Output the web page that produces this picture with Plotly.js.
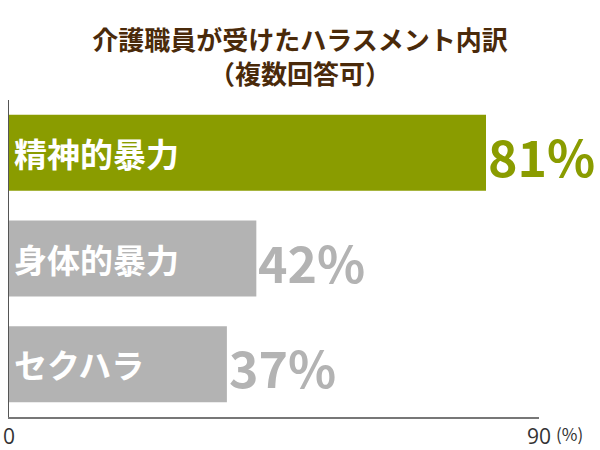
<!DOCTYPE html>
<html>
<head>
<meta charset="utf-8">
<script src="https://cdn.plot.ly/plotly-3.0.1.min.js"></script>
<style>
  html, body { margin: 0; padding: 0; background: #fff; }
  #chart { width: 600px; height: 450px; }
</style>
</head>
<body>
<div id="chart"></div>
<script>
const categories = ["精神的暴力", "身体的暴力", "セクハラ"];
const values = [81, 42, 37];
const barColors = ["#8a9c00", "#b3b3b3", "#b3b3b3"];
const tickVals = [0, 90];
const tickText = ["0", "90"];

const FONT = "'Noto Sans CJK JP', 'Noto Sans', sans-serif";

const barTrace = {
  type: "bar",
  orientation: "h",
  x: values,
  y: categories,
  width: 0.72,
  marker: { color: barColors },
  hoverinfo: "skip",
};

// category names inside the bars, percentages after the bar end
const nameLabels = categories.map((c) => ({
  x: 0,
  y: c,
  xref: "x",
  yref: "y",
  text: c,
  showarrow: false,
  xanchor: "left",
  xshift: 3,
  font: { family: FONT, size: 33, color: "#ffffff", weight: "bold" },
}));

const valueLabels = values.map((v, i) => ({
  x: v,
  y: categories[i],
  xref: "x",
  yref: "y",
  text: v + "%",
  showarrow: false,
  xanchor: "left",
  xshift: 0,
  yshift: -2,
  font: { family: FONT, size: 50, color: barColors[i], weight: "bold" },
}));

const unitLabel = {
  x: 90,
  y: 0,
  xref: "x",
  yref: "paper",
  xshift: 15,
  yshift: -16,
  text: "(%)",
  showarrow: false,
  xanchor: "left",
  yanchor: "middle",
  font: { family: FONT, size: 17, color: "#333333" },
};

const layout = {
  width: 600,
  height: 450,
  margin: { l: 9, r: 61, t: 100, b: 33 },
  paper_bgcolor: "#ffffff",
  plot_bgcolor: "#ffffff",
  showlegend: false,
  title: {
    text: "介護職員が受けたハラスメント内訳<br>（複数回答可）",
    font: { family: FONT, size: 26, color: "#4a2a0a", weight: "bold" },
    x: 0.5,
    xref: "container",
    y: 0.888,
    yref: "container",
    yanchor: "top",
  },
  xaxis: {
    range: [0, 90],
    tickmode: "array",
    tickvals: tickVals,
    ticktext: tickText,
    showgrid: false,
    zeroline: false,
    showline: true,
    linecolor: "#777777",
    linewidth: 2,
    ticks: "",
    tickfont: { family: "'Open Sans', sans-serif", size: 21, color: "#333333" },
    fixedrange: true,
  },
  yaxis: {
    autorange: "reversed",
    showticklabels: false,
    showgrid: false,
    zeroline: false,
    showline: true,
    linecolor: "#555555",
    linewidth: 1,
    ticks: "",
    fixedrange: true,
  },
  annotations: [...nameLabels, ...valueLabels, unitLabel],
};

Plotly.newPlot("chart", [barTrace], layout, { displayModeBar: false, staticPlot: true });
</script>
</body>
</html>
